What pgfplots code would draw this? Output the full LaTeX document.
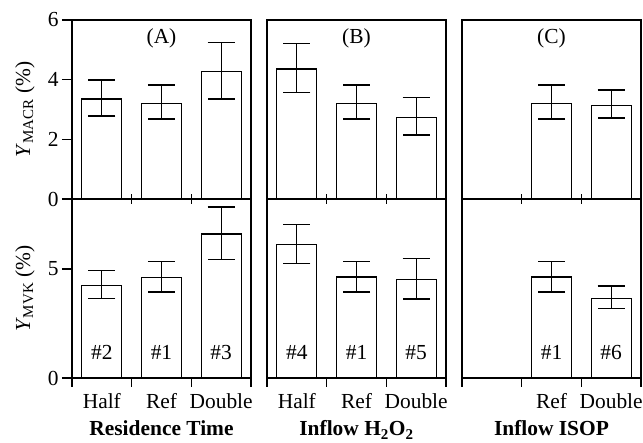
\documentclass[border=0pt]{standalone}
\usepackage{fontspec}
\setmainfont{Liberation Serif}
\usepackage{pgfplots}
\pgfplotsset{compat=1.18}
\newcommand{\fs}{\fontsize{21.5}{25}\selectfont}
\begin{document}
\begin{tikzpicture}
\pgfplotsset{
  panel/.style={
    scale only axis, width=179bp, height=179bp,
    xmin=0.5, xmax=3.5, clip=false,
    font=\fs,
    /pgf/number format/assume math mode=true,
    tick label style={font=\fs},
    xticklabel style={yshift=-2bp},
    axis line style={line width=1.7bp},
    every tick/.style={line width=1.3bp, black},
    tick align=outside,
    xtick pos=bottom, ytick pos=left,
    major tick length=10bp,
    ybar, bar width=40bp,
    ylabel style={at={([xshift=-47bp]rel axis cs:0,0.5)}, anchor=center},
  },
  toprow/.style={panel, ymin=0, ymax=6, xtick={1.5,2.5}, xticklabels={},
    major x tick style={yshift=5bp, line width=1.3bp}},
  botrow/.style={panel, ymin=0, ymax=8.2,
    xtick={1,2,3}, major x tick style={draw=none},
    minor xtick={0.5,1.5,2.5,3.5}, minor tick length=9bp,
    minor x tick style={line width=1.3bp}},
  bars/.style={draw=black, fill=white, line width=1.3bp,
    error bars/.cd, y dir=both, y explicit,
    error bar style={line width=1.3bp, black},
    error mark options={line width=1.3bp, mark size=13.5bp, rotate=90, black}},
}
% ---------- Top row ----------
\begin{axis}[toprow, at={(0bp,0bp)}, anchor=north west,
  ytick={0,2,4,6}, ylabel={\textit{Y}\textsubscript{MACR} (\%)}]
\addplot[bars] coordinates {(1,3.35) += (0,0.64) -= (0,0.57)
  (2,3.21) += (0,0.61) -= (0,0.53) (3,4.27) += (0,0.97) -= (0,0.92)};
\node at (axis cs:2,5.38) {(A)};
\end{axis}
\begin{axis}[toprow, at={(195bp,0bp)}, anchor=north west, ytick=\empty]
\addplot[bars] coordinates {(1,4.36) += (0,0.86) -= (0,0.78)
  (2,3.21) += (0,0.61) -= (0,0.53) (3,2.73) += (0,0.67) -= (0,0.58)};
\node at (axis cs:2,5.38) {(B)};
\end{axis}
\begin{axis}[toprow, at={(390bp,0bp)}, anchor=north west, ytick=\empty]
\addplot[bars] coordinates {(2,3.21) += (0,0.61) -= (0,0.53)
  (3,3.14) += (0,0.51) -= (0,0.42)};
\node at (axis cs:2,5.38) {(C)};
\end{axis}
% ---------- Bottom row ----------
\begin{axis}[botrow, at={(0bp,-179bp)}, anchor=north west,
  ytick={0,5}, xticklabels={Half,Ref,Double},
  ylabel={\textit{Y}\textsubscript{MVK} (\%)}]
\addplot[bars] coordinates {(1,4.23) += (0,0.71) -= (0,0.59)
  (2,4.60) += (0,0.75) -= (0,0.66) (3,6.59) += (0,1.24) -= (0,1.15)};
\node at (axis cs:1,1.15) {\#2};
\node at (axis cs:2,1.15) {\#1};
\node at (axis cs:3,1.15) {\#3};
\node[anchor=base, font=\fs\bfseries] at ([yshift=-58bp]rel axis cs:0.5,0) {Residence Time};
\end{axis}
\begin{axis}[botrow, at={(195bp,-179bp)}, anchor=north west,
  ytick=\empty, xticklabels={Half,Ref,Double}]
\addplot[bars] coordinates {(1,6.10) += (0,0.92) -= (0,0.84)
  (2,4.62) += (0,0.72) -= (0,0.68) (3,4.50) += (0,0.96) -= (0,0.88)};
\node at (axis cs:1,1.15) {\#4};
\node at (axis cs:2,1.15) {\#1};
\node at (axis cs:3,1.15) {\#5};
\node[anchor=base, font=\fs\bfseries] at ([yshift=-58bp]rel axis cs:0.5,0) {Inflow H\textsubscript{2}O\textsubscript{2}};
\end{axis}
\begin{axis}[botrow, at={(390bp,-179bp)}, anchor=north west,
  ytick=\empty, xtick={2,3}, xticklabels={Ref,Double}]
\addplot[bars] coordinates {(2,4.62) += (0,0.72) -= (0,0.68)
  (3,3.64) += (0,0.58) -= (0,0.47)};
\node at (axis cs:2,1.15) {\#1};
\node at (axis cs:3,1.15) {\#6};
\node[anchor=base, font=\fs\bfseries] at ([yshift=-58bp]rel axis cs:0.5,0) {Inflow ISOP};
\end{axis}
\pgfresetboundingbox
\path (-72bp,20bp) rectangle (571bp,-423bp);
\end{tikzpicture}
\end{document}
